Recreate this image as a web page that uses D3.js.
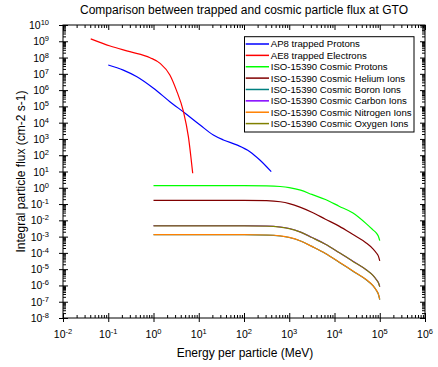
<!DOCTYPE html>
<html>
<head>
<meta charset="utf-8">
<script src="https://cdn.jsdelivr.net/npm/d3@7"></script>
<style>
    body { margin: 0; background: #fff; }
    svg { display: block; font-family: "Liberation Sans", Arial, sans-serif; }
</style>
</head>
<body>
<div id="grafico"></div>
<script>

// Trapped radiation (AP8 / AE8)
const ap8Energia = [0.1, 0.215, 0.43, 1.0, 2.3, 5.0, 10.7, 21, 35, 69, 135, 224, 400];
const ap8Fluxo   = [3.5e7, 1.7e7, 6.6e6, 1.3e6, 1.95e5, 3.8e4, 7.2e3, 1.75e3, 870, 430, 165, 51, 9.8];

const ae8Energia = [0.041, 0.11, 0.30, 0.84, 1.4, 2.3, 3.2, 4.6, 5.9, 7.35];
const ae8Fluxo   = [1.4e9, 5.1e8, 2.3e8, 9.8e7, 4.4e7, 8.5e6, 1.0e6, 4.7e4, 1.4e3, 7.8];

// Cosmic rays ISO-15390, same energy grid for every ion
const cosmicoEnergia = [1, 10, 100, 316, 631, 1000, 1780, 3160, 6310, 12600, 25100, 50100, 70800, 85100, 93300, 100000];
const protonsFluxo   = [1.35, 1.35, 1.35, 1.32, 1.2, 1.02, 0.71, 0.39, 0.19, 0.074, 0.029, 6.3e-3, 2.6e-3, 1.6e-3, 1.05e-3, 5.6e-4];
const helioFluxo     = [0.17, 0.17, 0.17, 0.162, 0.138, 0.107, 0.063, 0.0316, 0.0117, 4.4e-3, 1.38e-3, 4.1e-4, 1.78e-4, 9.5e-5, 6.3e-5, 3.2e-5];
const boroFluxo      = [1.3e-3, 1.3e-3, 1.3e-3, 1.25e-3, 1.09e-3, 8.8e-4, 5.4e-4, 2.5e-4, 9.2e-5, 2.7e-5, 7.8e-6, 2.25e-6, 9.6e-7, 4.7e-7, 2.9e-7, 1.35e-7];
const carbonoFluxo   = [4.7e-3, 4.7e-3, 4.7e-3, 4.5e-3, 3.9e-3, 3.16e-3, 1.9e-3, 8.9e-4, 3.4e-4, 1.05e-4, 3.16e-5, 9.3e-6, 4.2e-6, 2.2e-6, 1.5e-6, 8.5e-7];
const nitrogenioFluxo= [1.32e-3, 1.32e-3, 1.32e-3, 1.26e-3, 1.1e-3, 8.9e-4, 5.4e-4, 2.5e-4, 9.3e-5, 2.75e-5, 7.9e-6, 2.3e-6, 9.8e-7, 4.8e-7, 2.95e-7, 1.4e-7];
const oxigenioFluxo  = [4.6e-3, 4.6e-3, 4.6e-3, 4.45e-3, 3.85e-3, 3.12e-3, 1.88e-3, 8.8e-4, 3.35e-4, 1.04e-4, 3.1e-5, 9.1e-6, 4.1e-6, 2.15e-6, 1.45e-6, 8.3e-7];

const nomesSeries = [
    "AP8 trapped Protons",
    "AE8 trapped Electrons",
    "ISO-15390 Cosmic Protons",
    "ISO-15390 Cosmic Helium Ions",
    "ISO-15390 Cosmic Boron Ions",
    "ISO-15390 Cosmic Carbon Ions",
    "ISO-15390 Cosmic Nitrogen Ions",
    "ISO-15390 Cosmic Oxygen Ions"
];
const coresSeries = ["#0000ff", "#ff0000", "#00ff00", "#800000", "#008080", "#8000ff", "#ff8000", "#808000"];

const expoentesX = [-2, -1, 0, 1, 2, 3, 4, 5, 6];
const expoentesY = d3.range(-8, 11);

const titulo = "Comparison between trapped and cosmic particle flux at GTO";
const tituloX = "Energy per particle (MeV)";
const tituloY = "Integral particle flux (cm-2 s-1)";


const largura = 438, altura = 367;
const margem = {top: 25, right: 13, bottom: 49, left: 63};
const w = largura - margem.left - margem.right;
const h = altura - margem.top - margem.bottom;

const svg = d3.select("#grafico").append("svg")
    .attr("width", largura)
    .attr("height", altura);

const g = svg.append("g").attr("transform", `translate(${margem.left},${margem.top})`);

const x = d3.scaleLog().domain([1e-2, 1e6]).range([0, w]);
const y = d3.scaleLog().domain([1e-8, 1e10]).range([h, 0]);

//Ticks menores: 2..9 em cada década
const menores = (expoentes) => {
    let lista = [];
    expoentes.slice(0, -1).forEach(e => {
        for (let m = 2; m <= 9; m++) lista.push(m * Math.pow(10, e));
    });
    return lista;
};
const majX = expoentesX.map(e => Math.pow(10, e));
const majY = expoentesY.map(e => Math.pow(10, e));
const minX = menores(expoentesX);
const minY = menores(expoentesY);

function eixo(gerador, valores, tamanho, transform){
    const a = g.append("g")
        .attr("transform", transform || null)
        .call(gerador.tickValues(valores).tickSize(tamanho).tickFormat(""));
    a.select(".domain").remove();
    a.selectAll("line").attr("stroke", "#000").attr("stroke-width", 1);
}

// bottom
eixo(d3.axisBottom(x), majX, 4, `translate(0,${h})`);
eixo(d3.axisBottom(x), majX, -5, `translate(0,${h})`);
eixo(d3.axisBottom(x), minX, -3, `translate(0,${h})`);
// top
eixo(d3.axisTop(x), majX, -5);
eixo(d3.axisTop(x), minX, -3);
// left
eixo(d3.axisLeft(y), majY, 4);
eixo(d3.axisLeft(y), majY, -5);
eixo(d3.axisLeft(y), minY, -3);
// right
eixo(d3.axisRight(y), majY, -5, `translate(${w},0)`);
eixo(d3.axisRight(y), minY, -3, `translate(${w},0)`);

g.append("rect")
    .attr("width", w).attr("height", h)
    .attr("fill", "none").attr("stroke", "#000").attr("stroke-width", 1);

// labels 10^n
function rotuloPotencia(sel){
    sel.append("tspan").text("10");
    sel.append("tspan").attr("dy", -4).attr("font-size", 7.5).text(d => d);
}

g.selectAll(".rotulo-x").data(expoentesX).enter()
    .append("text")
    .attr("class", "rotulo-x")
    .attr("x", d => x(Math.pow(10, d)))
    .attr("y", h + 20)
    .attr("text-anchor", "middle")
    .attr("font-size", 10.5)
    .call(rotuloPotencia);

g.selectAll(".rotulo-y").data(expoentesY).enter()
    .append("text")
    .attr("class", "rotulo-y")
    .attr("x", -14)
    .attr("y", d => y(Math.pow(10, d)) + 4)
    .attr("text-anchor", "end")
    .attr("font-size", 10.5)
    .call(rotuloPotencia);

svg.append("text")
    .attr("x", 244).attr("y", 14)
    .attr("text-anchor", "middle")
    .attr("font-size", 12)
    .text(titulo);

svg.append("text")
    .attr("x", 245).attr("y", 357)
    .attr("text-anchor", "middle")
    .attr("font-size", 12)
    .text(tituloX);

svg.append("text")
    .attr("transform", `translate(25,${margem.top + h / 2}) rotate(-90)`)
    .attr("text-anchor", "middle")
    .attr("font-size", 12)
    .text(tituloY);

// curves
const series = [
    [ap8Energia, ap8Fluxo],
    [ae8Energia, ae8Fluxo],
    [cosmicoEnergia, protonsFluxo],
    [cosmicoEnergia, helioFluxo],
    [cosmicoEnergia, boroFluxo],
    [cosmicoEnergia, carbonoFluxo],
    [cosmicoEnergia, nitrogenioFluxo],
    [cosmicoEnergia, oxigenioFluxo]
].map(([energias, fluxos], i) => ({
    nome: nomesSeries[i],
    cor: coresSeries[i],
    pontos: energias.map((e, k) => ({e: e, f: fluxos[k]}))
}));

const linha = d3.line()
    .x(d => x(d.e))
    .y(d => y(d.f))
    .curve(d3.curveMonotoneX);

const area = g.append("g");
area.selectAll("path").data(series).enter()
    .append("path")
    .attr("d", d => linha(d.pontos))
    .attr("fill", "none")
    .attr("stroke", d => d.cor)
    .attr("stroke-width", 1.2);

// legend
const legX = 244.5 - margem.left, legY = 36.7 - margem.top;
const legenda = g.append("g").attr("transform", `translate(${legX},${legY})`);
legenda.append("rect")
    .attr("width", 169.5).attr("height", 95.3)
    .attr("fill", "#fff").attr("stroke", "#000").attr("stroke-width", 1);

const itens = legenda.selectAll(".item").data(series).enter()
    .append("g")
    .attr("class", "item")
    .attr("transform", (d, i) => `translate(0,${7.3 + i * 11.37})`);

itens.append("line")
    .attr("x1", 1.2).attr("x2", 24.5)
    .attr("stroke", d => d.cor)
    .attr("stroke-width", 1.5);

itens.append("text")
    .attr("x", 26.3).attr("y", 3.4)
    .attr("font-size", 9.6)
    .text(d => d.nome);

</script>
</body>
</html>
